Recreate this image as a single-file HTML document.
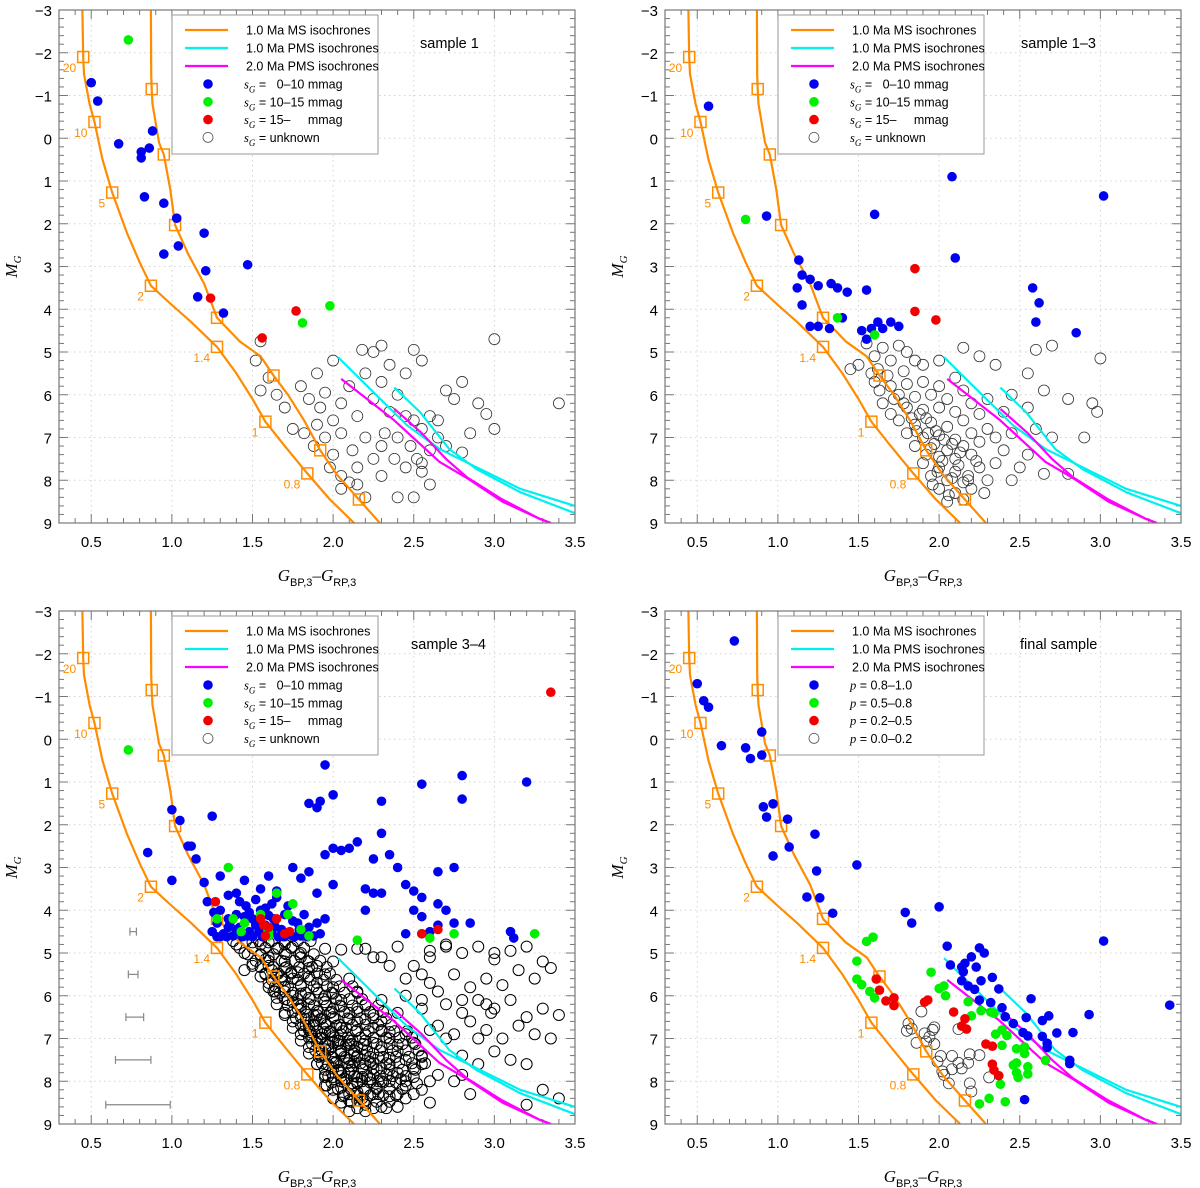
<!DOCTYPE html>
<html><head><meta charset="utf-8"><style>
html,body{margin:0;padding:0;background:#fff;}
svg{display:block;font-family:"Liberation Sans",sans-serif;}
</style></head><body>
<svg id="fig" width="1200" height="1188" viewBox="0 0 1200 1188" xmlns="http://www.w3.org/2000/svg"></svg>
<script>
function P(s){return s.trim().split(/\s+/).map(function(t){return t.split(',').map(Number);});}
// ---- axis data ----
const xTicks=[0.5,1.0,1.5,2.0,2.5,3.0,3.5];
const xTickLabels=["0.5","1.0","1.5","2.0","2.5","3.0","3.5"];
const yTicks=[-3,-2,-1,0,1,2,3,4,5,6,7,8,9];
const yTickLabels=["−3","−2","−1","0","1","2","3","4","5","6","7","8","9"];
// ---- isochrones ----
const msLeft=P("0.445,-3 0.45,-1.9 0.455,-1.5 0.49,-0.8 0.52,-0.38 0.57,0.5 0.63,1.27 0.72,2.2 0.8,2.9 0.87,3.45 1.0,3.9 1.12,4.3 1.28,4.88 1.4,5.5 1.5,6.1 1.58,6.63 1.7,7.2 1.84,7.84 1.98,8.45 2.13,9");
const msRight=P("0.87,-3 0.872,-1.5 0.875,-1.15 0.88,-0.8 0.92,0.1 0.95,0.38 0.99,1.2 1.02,2.03 1.1,2.7 1.2,3.4 1.28,4.2 1.42,4.75 1.55,5.1 1.63,5.55 1.72,6.0 1.82,6.6 1.92,7.3 2.02,7.85 2.16,8.45 2.29,9");
const msLeftSq=P("0.45,-1.9 0.52,-0.38 0.63,1.27 0.87,3.45 1.28,4.88 1.58,6.63 1.84,7.84");
const msLeftSqLabels=["20","10","5","2","1.4","1","0.8"];
const msRightSq=P("0.875,-1.15 0.95,0.38 1.02,2.03 1.28,4.2 1.63,5.55 1.92,7.3 2.16,8.45");
const pms1a=P("2.03,5.12 2.25,5.94 2.46,6.72 2.66,7.27 2.87,7.66 3.16,8.2 3.5,8.6");
const pms1b=P("2.38,5.83 2.54,6.41 2.72,7.27 2.89,7.74 3.16,8.28 3.5,8.77");
const pms2a=P("2.05,5.63 2.37,6.57 2.66,7.57 2.83,7.95 3.05,8.5 3.28,8.9 3.35,9");
const pms2b=P("2.38,6.33 2.55,6.9 2.7,7.5 2.83,7.93 3.05,8.45 3.28,8.9 3.35,9");
// ---- panel 1 ----
const p1Blue=P("0.5,-1.3 0.54,-0.87 0.67,0.13 0.81,0.32 0.81,0.46 0.86,0.23 0.88,-0.17 0.83,1.37 0.95,1.52 1.03,1.87 1.04,2.52 0.95,2.71 1.2,2.22 1.21,3.1 1.47,2.96 1.16,3.71 1.32,4.09");
const p1Green=P("0.73,-2.3 1.98,3.92 1.81,4.32");
const p1Red=P("1.24,3.74 1.56,4.67 1.77,4.04");
const p1Open=P("1.55,4.75 1.52,5.2 1.6,5.6 1.55,5.9 1.65,6.0 1.7,6.3 1.8,5.8 1.85,6.1 1.75,6.8 1.82,6.9 1.9,6.7 1.95,7.0 1.88,7.2 2.0,7.4 1.98,7.7 2.05,7.9 2.1,8.05 2.2,7.0 2.15,6.5 2.05,6.2 2.1,5.8 2.2,5.5 2.25,5.0 2.3,4.85 2.18,4.95 2.35,5.3 2.0,5.2 2.3,5.7 2.25,6.1 2.35,6.4 2.4,6.0 2.45,5.5 2.5,4.95 2.55,5.2 2.45,6.5 2.5,6.6 2.55,6.8 2.4,7.0 2.3,7.2 2.25,7.5 2.15,7.7 2.3,7.9 2.2,8.4 2.15,8.1 2.05,8.2 2.4,8.4 2.5,8.4 2.45,7.7 2.55,7.8 2.6,7.3 2.65,7.0 2.7,7.2 2.6,6.5 2.75,6.1 2.8,7.35 2.85,6.9 2.9,6.2 2.8,5.7 2.7,5.9 3.0,4.7 3.4,6.2 3.0,6.8 2.95,6.45 2.65,6.6 2.0,6.6 1.92,6.3 1.9,5.5 2.12,7.3 2.32,6.9 2.48,7.2 2.38,7.5 2.52,7.5 2.05,6.9 1.95,5.95 2.6,8.1 2.55,7.6");
// ---- panel 2 ----
const p2Blue=P("0.57,-0.75 0.93,1.82 1.13,2.85 1.15,3.2 1.2,3.3 1.25,3.45 1.33,3.4 1.37,3.5 1.43,3.6 1.55,3.55 1.6,1.78 1.12,3.5 1.15,3.9 1.2,4.4 1.25,4.4 1.32,4.45 1.4,4.2 1.52,4.5 1.58,4.45 1.62,4.3 1.65,4.45 1.7,4.3 1.75,4.4 2.08,0.9 2.1,2.8 2.58,3.5 2.62,3.85 2.6,4.3 2.85,4.55 3.02,1.35 1.55,4.7");
const p2Green=P("0.8,1.9 1.37,4.2 1.6,4.6");
const p2Red=P("1.85,3.05 1.85,4.05 1.98,4.25");
const p2Open=P("1.55,4.8 1.65,4.9 1.75,4.85 1.8,5.0 1.6,5.1 1.7,5.2 1.85,5.2 1.5,5.3 1.62,5.4 1.78,5.45 1.9,5.3 2.0,5.2 2.15,4.9 2.25,5.1 2.35,5.3 2.6,4.95 2.7,4.85 2.55,5.5 1.45,5.4 1.6,5.7 1.7,5.8 1.8,5.75 1.9,5.7 2.0,5.8 1.75,6.0 1.85,6.05 1.95,6.0 2.05,6.1 2.15,5.9 1.65,6.2 1.8,6.3 1.9,6.35 2.0,6.3 2.1,6.4 2.2,6.2 2.3,6.1 2.45,6.0 2.55,6.3 2.65,5.9 2.8,6.1 2.95,6.2 2.98,6.4 3.0,5.15 1.7,6.45 2.25,6.45 2.4,6.4 2.1,5.6 1.75,6.6 1.85,6.7 1.95,6.65 2.05,6.75 2.15,6.6 1.8,6.9 1.9,7.0 2.0,6.95 2.1,7.05 2.2,6.9 2.3,6.8 1.85,7.2 1.95,7.25 2.05,7.3 2.15,7.2 2.25,7.1 2.35,7.0 2.45,6.9 2.6,6.8 2.7,7.0 2.9,7.0 2.0,7.45 2.1,7.5 2.2,7.4 2.4,7.3 2.55,7.4 1.92,6.55 1.9,7.6 2.0,7.7 2.1,7.8 1.95,7.9 2.05,8.0 2.15,8.05 2.25,7.7 2.35,7.6 2.5,7.7 2.65,7.85 2.8,7.85 2.0,8.2 2.1,8.3 2.2,8.2 2.3,8.0 2.05,8.5 2.15,8.45 2.45,8.0 1.72,6.1 1.88,6.45 1.98,6.85 2.08,7.15 2.12,7.65 2.02,7.55 1.92,7.4 2.18,8.0 1.96,8.1 2.06,8.35 1.68,5.55 1.78,6.2 1.86,6.85 1.97,7.15 2.03,7.05 2.13,7.35 1.99,7.8 2.08,7.95 1.83,6.55 1.93,6.9 2.23,7.55 2.18,7.9 2.28,8.3 1.63,5.9 1.58,5.5");
// ---- panel 3 ----
const p3Blue=P("0.85,2.65 1.0,1.65 1.05,1.9 1.1,2.5 1.25,1.8 1.12,2.5 1.15,2.8 1.0,3.3 1.2,3.35 1.3,3.2 1.35,3.65 1.22,3.8 2.15,0.0 1.95,0.6 2.0,1.3 1.85,1.5 1.9,1.6 1.92,1.45 2.3,1.45 2.3,2.2 2.55,1.05 2.8,0.85 2.8,1.4 3.2,1.0 2.0,2.55 2.05,2.6 2.1,2.55 1.95,2.7 2.25,2.8 2.15,2.4 2.4,3.0 2.35,2.7 2.65,3.1 2.75,3.0 1.6,3.2 1.75,3.0 1.8,3.25 1.85,3.1 1.9,3.6 2.0,3.4 1.95,4.2 1.65,3.7 2.2,3.5 2.25,3.6 2.3,3.6 2.5,3.55 2.45,3.4 2.55,3.7 2.5,4.0 2.55,4.15 2.65,3.85 2.7,4.0 2.75,4.3 2.65,4.35 2.6,4.5 2.55,4.55 2.45,4.55 2.85,4.3 3.1,4.5 3.12,4.65 2.2,4.0 1.55,3.5 1.4,3.6 1.45,3.3 1.3,4.0 1.35,4.2 1.4,4.1 1.42,4.4 1.48,4.5 1.5,4.2 1.55,4.0 1.58,4.35 1.6,4.6 1.63,4.2 1.68,4.45 1.7,4.1 1.73,4.55 1.78,4.3 1.8,4.6 1.85,4.4 1.88,4.6 1.62,3.85 1.72,3.9 1.82,4.1 1.38,4.6 1.32,4.55 1.28,4.3 1.46,3.9 1.56,4.62 1.66,4.62 1.76,4.62 1.9,4.3 1.5,4.62 1.44,4.62 1.35,4.4 1.25,4.5 1.52,3.75 1.65,3.55 1.58,3.95 1.34,4.62 1.7,4.62 1.62,4.5 1.52,4.35 1.45,4.15 1.75,4.25 1.82,4.48 1.92,4.55 1.28,4.62 1.4,4.45 1.3,4.62 1.36,4.3 1.47,4.6 1.54,4.5 1.64,4.38 1.69,4.62 1.79,4.45 1.84,4.62 1.6,4.12 1.48,4.05 1.42,3.8 1.26,4.05");
const p3Green=P("0.73,0.25 1.35,3.0 1.38,4.2 1.55,4.1 1.45,4.3 1.6,4.6 1.65,3.6 1.75,3.85 1.72,4.1 1.85,4.6 1.8,4.45 1.6,4.5 2.15,4.7 2.6,4.65 2.75,4.55 3.25,4.55 1.28,4.2 1.43,4.5");
const p3Red=P("1.27,3.8 1.55,4.2 1.57,4.35 1.65,4.2 1.7,4.55 1.58,4.6 1.73,4.5 2.55,4.55 2.65,4.45 3.35,-1.1 1.6,4.4");
const p3OpenExtra=P("1.4,4.8 1.5,4.75 1.6,4.75 1.7,4.8 1.45,5.0 1.55,5.05 1.7,5.0 1.8,5.1 1.5,5.25 1.6,5.3 1.7,5.35 1.85,5.35 1.55,5.55 1.65,5.5 1.75,5.6 1.85,5.55 1.95,5.5 1.6,5.8 1.7,5.9 1.8,5.95 1.9,5.85 2.0,5.95 1.65,6.05 1.75,6.15 1.85,6.2 1.95,6.15 2.05,6.25 2.15,6.3 1.7,6.4 1.8,6.5 1.9,6.45 2.0,6.5 2.1,6.55 2.2,6.55 2.3,6.6 1.75,6.75 1.85,6.8 1.95,6.85 2.05,6.9 2.15,6.8 2.25,6.75 2.35,6.85 1.8,7.05 1.9,7.1 2.0,7.1 2.1,7.15 2.2,7.05 2.3,7.2 2.4,7.15 2.5,7.1 1.85,7.35 1.95,7.4 2.05,7.35 2.15,7.4 2.25,7.35 2.35,7.45 2.45,7.5 2.55,7.6 1.9,7.6 2.0,7.55 2.1,7.65 2.2,7.6 2.3,7.7 2.4,7.8 2.5,7.9 2.6,8.0 1.95,7.85 2.05,7.8 2.15,7.9 2.25,7.85 2.35,8.0 2.45,8.1 2.55,8.2 1.95,8.1 2.05,8.15 2.15,8.25 2.25,8.3 2.35,8.35 2.0,8.4 2.1,8.45 2.2,8.55 2.3,8.6 2.4,8.6 2.45,8.4 2.6,8.5 1.92,7.0 1.98,7.25 2.08,7.45 2.12,7.05 2.02,6.7 1.88,6.6 1.78,6.3 1.68,5.65 2.18,7.7 2.28,8.0 2.12,8.05 1.97,7.62 2.03,7.75 1.93,7.28 2.07,7.95 2.13,7.55 2.23,7.95 1.87,6.95 1.83,6.7 1.98,6.4 2.08,6.75 2.18,7.25 2.28,7.45 2.33,7.85 2.18,8.4 2.27,8.15 2.4,8.3 2.1,8.7 2.2,8.7 2.5,8.3 2.52,8.05 2.42,7.95 2.0,7.9 2.04,7.05 1.94,6.75 1.64,5.9 1.58,5.15 1.74,5.45 2.2,4.9 2.3,5.1 2.4,4.85 2.5,5.3 2.6,5.1 2.7,4.8 2.8,5.0 2.9,4.85 3.0,5.0 3.1,4.95 3.2,4.85 3.3,5.2 2.45,5.6 2.6,5.7 2.75,5.5 2.85,5.8 2.95,5.6 3.05,5.75 3.15,5.4 3.25,5.6 3.35,5.35 2.55,6.1 2.7,6.2 2.8,6.4 2.9,6.1 3.0,6.3 3.1,6.1 3.2,6.5 3.3,6.3 2.65,6.7 2.75,6.9 2.85,6.6 2.95,6.8 3.05,7.0 3.15,6.7 3.25,6.9 3.35,7.0 3.4,6.45 2.8,7.4 2.9,7.6 3.0,7.3 3.1,7.5 3.2,7.6 3.3,8.2 3.4,8.4 3.2,8.55 2.75,8.0 2.85,8.3");
const p3Dense=P("1.38,4.72 1.46,4.72 1.54,4.72 1.62,4.72 1.7,4.72 1.78,4.72 1.86,4.72 1.42,4.88 1.5,4.88 1.58,4.88 1.66,4.88 1.74,4.88 1.82,4.88 1.95,4.9 2.05,4.92 1.47,5.03 1.55,5.03 1.63,5.03 1.71,5.03 1.79,5.03 1.88,5.03 1.52,5.18 1.6,5.18 1.68,5.18 1.76,5.18 1.84,5.18 1.92,5.18 1.55,5.33 1.63,5.33 1.71,5.33 1.79,5.33 1.87,5.33 1.96,5.33 1.58,5.48 1.66,5.48 1.74,5.48 1.82,5.48 1.9,5.48 1.98,5.48 1.62,5.63 1.7,5.63 1.78,5.63 1.86,5.63 1.94,5.63 2.02,5.63 1.64,5.78 1.72,5.78 1.8,5.78 1.88,5.78 1.96,5.78 2.04,5.78 2.12,5.78 1.67,5.93 1.75,5.93 1.83,5.93 1.91,5.93 1.99,5.93 2.07,5.93 2.15,5.93 1.7,6.08 1.78,6.08 1.86,6.08 1.94,6.08 2.02,6.08 2.1,6.08 2.18,6.08 1.72,6.23 1.8,6.23 1.88,6.23 1.96,6.23 2.04,6.23 2.12,6.23 2.2,6.23 2.28,6.23 1.75,6.38 1.83,6.38 1.91,6.38 1.99,6.38 2.07,6.38 2.15,6.38 2.23,6.38 2.31,6.38 1.77,6.53 1.85,6.53 1.93,6.53 2.01,6.53 2.09,6.53 2.17,6.53 2.25,6.53 2.33,6.53 1.8,6.68 1.88,6.68 1.96,6.68 2.04,6.68 2.12,6.68 2.2,6.68 2.28,6.68 2.36,6.68 1.82,6.83 1.9,6.83 1.98,6.83 2.06,6.83 2.14,6.83 2.22,6.83 2.3,6.83 2.38,6.83 2.46,6.83 1.85,6.98 1.93,6.98 2.01,6.98 2.09,6.98 2.17,6.98 2.25,6.98 2.33,6.98 2.41,6.98 2.49,6.98 1.87,7.13 1.95,7.13 2.03,7.13 2.11,7.13 2.19,7.13 2.27,7.13 2.35,7.13 2.43,7.13 2.51,7.13 1.89,7.28 1.97,7.28 2.05,7.28 2.13,7.28 2.21,7.28 2.29,7.28 2.37,7.28 2.45,7.28 2.53,7.28 1.91,7.43 1.99,7.43 2.07,7.43 2.15,7.43 2.23,7.43 2.31,7.43 2.39,7.43 2.47,7.43 2.55,7.43 1.93,7.58 2.01,7.58 2.09,7.58 2.17,7.58 2.25,7.58 2.33,7.58 2.41,7.58 2.49,7.58 2.57,7.58 1.95,7.73 2.03,7.73 2.11,7.73 2.19,7.73 2.27,7.73 2.35,7.73 2.43,7.73 2.51,7.73 1.97,7.88 2.05,7.88 2.13,7.88 2.21,7.88 2.29,7.88 2.37,7.88 2.45,7.88 1.99,8.03 2.07,8.03 2.15,8.03 2.23,8.03 2.31,8.03 2.39,8.03 2.03,8.18 2.11,8.18 2.19,8.18 2.27,8.18 2.35,8.18 2.43,8.18 2.07,8.33 2.15,8.33 2.23,8.33 2.31,8.33 2.39,8.33 2.11,8.48 2.19,8.48 2.27,8.48 2.35,8.48 2.15,8.63 2.25,8.63 2.33,8.63");
const p3Open=p2Open.concat(p3OpenExtra).concat(p3Dense);
// error bars
const errBarC=[0.76,0.76,0.77,0.76,0.79];
const errBarM=[4.5,5.5,6.5,7.5,8.55];
const errBarHW=[0.02,0.03,0.055,0.11,0.2];
// ---- panel 4 ----
const p4Blue=P("0.5,-1.3 0.54,-0.9 0.57,-0.75 0.73,-2.3 0.65,0.15 0.8,0.2 0.83,0.45 0.9,-0.17 0.9,0.37 0.91,1.58 0.93,1.82 0.97,1.51 1.06,1.87 1.07,2.52 0.97,2.73 1.23,2.22 1.24,3.08 1.49,2.94 1.18,3.69 1.26,3.71 1.34,4.07 1.79,4.05 1.83,4.3 2.0,3.92 3.02,4.72 3.43,6.22 2.05,4.84 2.07,5.28 2.14,5.33 2.16,5.24 2.15,5.44 2.2,5.09 2.25,4.88 2.28,5.0 2.23,5.33 2.33,5.57 2.14,5.65 2.18,5.77 2.22,5.85 2.26,5.65 2.37,5.84 2.25,6.1 2.32,6.16 2.39,6.28 2.41,6.49 2.46,6.65 2.52,6.86 2.54,6.51 2.57,6.07 2.55,6.94 2.64,6.58 2.68,6.47 2.64,6.95 2.67,7.11 2.67,7.21 2.73,6.87 2.83,6.86 2.81,7.59 2.81,7.51 2.93,6.44 2.53,8.43");
const p4Green=P("1.55,4.73 1.59,4.63 1.49,5.19 1.49,5.61 1.52,5.74 1.57,5.9 1.6,6.05 1.95,5.45 2.0,5.83 2.03,5.77 2.04,6.0 2.18,6.14 2.2,6.47 2.26,6.35 2.32,6.38 2.34,6.41 2.35,6.9 2.39,6.8 2.42,6.93 2.39,7.16 2.48,7.24 2.53,7.2 2.53,7.35 2.46,7.62 2.48,7.57 2.48,7.8 2.49,7.91 2.55,7.66 2.55,7.83 2.66,7.51 2.38,8.07 2.25,8.53 2.31,8.4 2.41,8.48");
const p4Red=P("1.61,5.61 1.63,5.87 1.67,6.12 1.72,6.05 1.72,6.23 1.91,6.15 1.93,6.1 2.09,6.38 2.14,6.71 2.16,6.54 2.17,6.78 2.29,7.13 2.33,7.18 2.33,7.6 2.34,7.74 2.37,7.87");
const p4Open=P("1.89,6.37 1.81,6.65 1.8,6.82 1.83,6.77 1.86,7.1 1.91,6.88 1.94,6.96 1.97,6.74 1.96,6.8 1.97,7.13 1.92,7.07 2.01,7.41 1.99,7.54 2.02,7.77 2.03,7.85 2.06,8.05 2.08,7.41 2.08,7.72 2.12,7.57 2.14,7.7 2.18,7.57 2.19,7.37 2.25,7.39 2.19,8.05 2.2,8.24 2.31,7.91 2.12,6.78");

const legend123=["s_G =   0–10 mmag","s_G = 10–15 mmag","s_G = 15–     mmag","s_G = unknown"];
const legend4=["p = 0.8–1.0","p = 0.5–0.8","p = 0.2–0.5","p = 0.0–0.2"];
const lineLegend=["1.0 Ma MS isochrones","1.0 Ma PMS isochrones","2.0 Ma PMS isochrones"];

const NS="http://www.w3.org/2000/svg";
const svg=document.getElementById('fig');
const W=516,H=513,X0=0.3,X1=3.5,Y0=-3,Y1=9;
const ORANGE="#ff8c00",CYAN="#00f0f0",MAGENTA="#ff00ff",BLUE="#0000f0",GREEN="#00f000",RED="#f00000";
function el(tag,attrs,parent){const e=document.createElementNS(NS,tag);for(const k in attrs)e.setAttribute(k,attrs[k]);(parent||svg).appendChild(e);return e;}

const panels=[
 {L:59,T:10,name:"sample-1",title:"sample 1",tx:361,blue:p1Blue,green:p1Green,red:p1Red,open:p1Open,leg:legend123,os:'#333',ow:0.8},
 {L:665,T:10,name:"sample-1-3",title:"sample 1–3",tx:356,blue:p2Blue,green:p2Green,red:p2Red,open:p2Open,leg:legend123,os:'#333',ow:0.8},
 {L:59,T:611,name:"sample-3-4",title:"sample 3–4",tx:352,blue:p3Blue,green:p3Green,red:p3Red,open:p3Open,leg:legend123,err:true,os:'#000',ow:1.0},
 {L:665,T:611,name:"final-sample",title:"final sample",tx:355,blue:p4Blue,green:p4Green,red:p4Red,open:p4Open,leg:legend4,os:'#333',ow:0.8}
];

panels.forEach(function(p){
 const g=el('g',{});
 
 
 const sx=function(c){return p.L+(c-X0)/(X1-X0)*W;};
 const sy=function(m){return p.T+(m-Y0)/(Y1-Y0)*H;};
 const clip=el('clipPath',{id:'clip-'+p.name},g);
 el('rect',{x:p.L,y:p.T,width:W,height:H},clip);
 const grid=el('g',{stroke:'#d4d4d4','stroke-width':1,'stroke-dasharray':'1.5,3.5'},g);
 
 
 xTicks.forEach(function(v){if(v<X1)el('line',{x1:sx(v),x2:sx(v),y1:p.T,y2:p.T+H},grid);});
 yTicks.forEach(function(v){if(v>Y0&&v<Y1)el('line',{x1:p.L,x2:p.L+W,y1:sy(v),y2:sy(v)},grid);});
 const tk=el('g',{stroke:'#777','stroke-width':1},g);
 
 
 for(let i=3;i<=35;i++){const v=i/10;const len=(i%5===0)?9:5;const x=sx(v);
  el('line',{x1:x,x2:x,y1:p.T+H,y2:p.T+H-len},tk);el('line',{x1:x,x2:x,y1:p.T,y2:p.T+len},tk);}
 for(let i=-15;i<=45;i++){const v=i/5;const len=(i%5===0)?9:5;const y=sy(v);
  el('line',{x1:p.L,x2:p.L+len,y1:y,y2:y},tk);el('line',{x1:p.L+W,x2:p.L+W-len,y1:y,y2:y},tk);}
 xTicks.forEach(function(v,i){const t=el('text',{x:sx(v),y:p.T+H+24,'text-anchor':'middle','font-size':15,fill:'#000'},g);t.textContent=xTickLabels[i];
  });
 yTicks.forEach(function(v,i){const t=el('text',{x:p.L-7,y:sy(v)+6,'text-anchor':'end','font-size':15,fill:'#000'},g);t.textContent=yTickLabels[i];
  });
 const xt=el('text',{x:p.L+W/2,y:p.T+H+58,'text-anchor':'middle','font-family':'"Liberation Serif",serif','font-size':17,fill:'#000'},g);
 
 xt.innerHTML='<tspan font-style="italic">G</tspan><tspan font-family="Liberation Sans" font-size="11" dy="5">BP,3</tspan><tspan dy="-5">–</tspan><tspan font-style="italic">G</tspan><tspan font-family="Liberation Sans" font-size="11" dy="5">RP,3</tspan>';
 const yt=el('text',{transform:'translate('+(p.L-42)+','+(p.T+H/2)+') rotate(-90)','text-anchor':'middle','font-family':'"Liberation Serif",serif','font-size':17,fill:'#000'},g);
 
 yt.innerHTML='<tspan font-style="italic">M</tspan><tspan font-style="italic" font-size="11" dy="4">G</tspan>';
 const d=el('g',{'clip-path':'url(#clip-'+p.name+')'},g);
 const pathOf=function(arr){return arr.map(function(q,i){return (i?'L':'M')+sx(q[0]).toFixed(1)+','+sy(q[1]).toFixed(1);}).join(' ');};
 const og=el('g',{fill:'none',stroke:p.os,'stroke-width':p.ow},d);
 
 p.open.forEach(function(q){const c=el('circle',{cx:sx(q[0]),cy:sy(q[1]),r:5.5},og);});
 [[msLeft,ORANGE,'ms-isochrone-left'],[msRight,ORANGE,'ms-isochrone-right'],[pms1a,CYAN,'pms-1ma-isochrone-a'],[pms1b,CYAN,'pms-1ma-isochrone-b'],[pms2a,MAGENTA,'pms-2ma-isochrone-a'],[pms2b,MAGENTA,'pms-2ma-isochrone-b']].forEach(function(s){
  const pa=el('path',{d:pathOf(s[0]),fill:'none',stroke:s[1],'stroke-width':2.2,'stroke-linejoin':'round'},d);
  });
 msLeftSq.concat(msRightSq).forEach(function(q){const r=el('rect',{x:sx(q[0])-5.5,y:sy(q[1])-5.5,width:11,height:11,fill:'none',stroke:ORANGE,'stroke-width':1.5},d);
  });
 msLeftSq.forEach(function(q,i){const t=el('text',{x:sx(q[0])-7,y:sy(q[1])+15,'text-anchor':'end','font-size':12,fill:ORANGE},g);t.textContent=msLeftSqLabels[i];
  });
 [[p.blue,BLUE,'point-blue'],[p.green,GREEN,'point-green'],[p.red,RED,'point-red']].forEach(function(s){
  s[0].forEach(function(q){const c=el('circle',{cx:sx(q[0]),cy:sy(q[1]),r:4.8,fill:s[1]},d);});});
 if(p.err){errBarC.forEach(function(c,i){const eg=el('g',{stroke:'#888','stroke-width':1.2},g);
  
  const y=sy(errBarM[i]),xa=sx(c-errBarHW[i]),xb=sx(c+errBarHW[i]);
  el('line',{x1:xa,x2:xb,y1:y,y2:y},eg);el('line',{x1:xa,x2:xa,y1:y-4,y2:y+4},eg);el('line',{x1:xb,x2:xb,y1:y-4,y2:y+4},eg);});}
 const fr=el('rect',{x:p.L,y:p.T,width:W,height:H,fill:'none',stroke:'#777','stroke-width':1.2},g);
 
 const lg=el('g',{},g);
 
 el('rect',{x:p.L+113,y:p.T+5,width:206,height:139,fill:'#fff',stroke:'#999','stroke-width':1},lg);
 [ORANGE,CYAN,MAGENTA].forEach(function(col,i){const y=p.T+20+i*18;
  const ln=el('line',{x1:p.L+126,x2:p.L+169,y1:y,y2:y,stroke:col,'stroke-width':2.2},lg);
  
  const t=el('text',{x:p.L+187,y:y+4.5,'font-size':12.5,fill:'#000'},lg);t.textContent=lineLegend[i];
  });
 [BLUE,GREEN,RED,null].forEach(function(col,i){const y=p.T+74+i*17.8;
  const c=el('circle',col?{cx:p.L+149,cy:y,r:4.8,fill:col}:{cx:p.L+149,cy:y,r:5,fill:'none',stroke:'#555','stroke-width':0.8},lg);
  
  const t=el('text',{x:p.L+185,y:y+4.5,'font-size':12.5,fill:'#000','xml:space':'preserve'},lg);
  
  const s=p.leg[i];
  if(s.indexOf('s_G')===0){t.innerHTML='<tspan font-family="Liberation Serif" font-style="italic">s</tspan><tspan font-family="Liberation Serif" font-style="italic" font-size="9" dy="4">G</tspan><tspan dy="-4" style="white-space:pre">'+s.slice(3)+'</tspan>';}
  else{t.innerHTML='<tspan font-family="Liberation Serif" font-style="italic">p</tspan><tspan>'+s.slice(1)+'</tspan>';}
 });
 const tt=el('text',{x:p.L+p.tx,y:p.T+38,'font-size':14.5,fill:'#000'},g);tt.textContent=p.title;
 
});
</script>
</body></html>
